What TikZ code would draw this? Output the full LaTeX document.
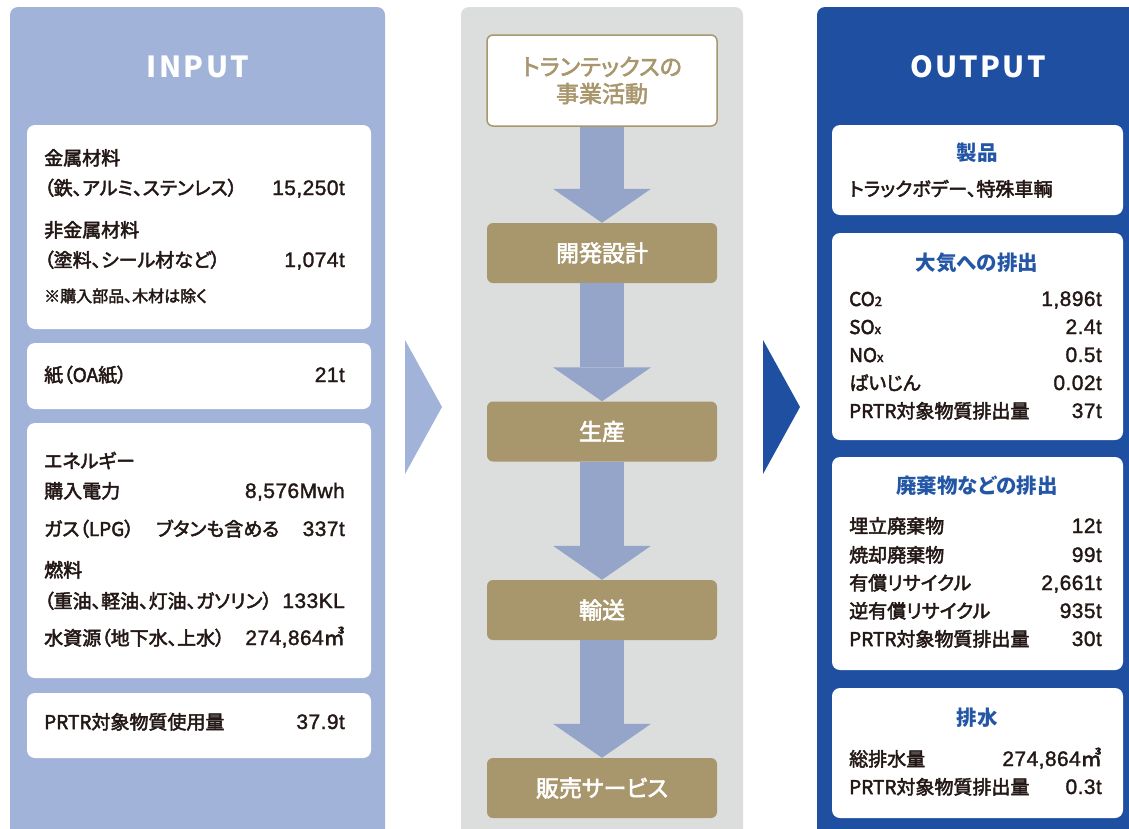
\documentclass[tikz,border=0pt]{standalone}
\usepackage{fontspec}
\setmainfont[RawFeature=+palt]{Noto Sans CJK JP}
\newfontfamily\bodyfont[RawFeature=+palt,FakeBold=2.5]{Noto Sans CJK JP}
\newfontfamily\numfont[LetterSpace=2,FakeBold=1.5]{Liberation Sans}
\usetikzlibrary{arrows.meta}

\definecolor{inblue}{HTML}{A2B3DA}
\definecolor{outblue}{HTML}{1F4FA0}
\definecolor{midgray}{HTML}{DCDEDE}
\definecolor{flowblue}{HTML}{94A5C9}
\definecolor{gold}{HTML}{A8966C}
\definecolor{ink}{HTML}{231815}
\definecolor{headblue}{HTML}{2456A6}

\tikzset{
  card/.style={fill=white, rounded corners=8pt},
  title/.style={text=white, font=\fontsize{29}{32}\selectfont\bfseries\addfontfeature{LetterSpace=8}},
  item/.style={anchor=west, text=ink, text height=14pt, text depth=4pt, font=\bodyfont\fontsize{19}{20}\selectfont},
  amount/.style={item, anchor=east, font=\numfont\fontsize{21}{22}\selectfont},
  note/.style={item, font=\bodyfont\fontsize{16}{18}\selectfont},
  head/.style={text=headblue, text height=15pt, text depth=4pt, font=\fontsize{20.5}{22}\selectfont\bfseries},
  startbox/.style={draw=gold, line width=1.5pt, fill=white, rounded corners=6pt, minimum width=230pt, minimum height=91pt, align=center, text=gold, font=\bodyfont\fontsize{23}{27}\selectfont},
  stepbox/.style={fill=gold, rounded corners=6pt, minimum width=230pt, minimum height=60pt, text=white, font=\bodyfont\fontsize{23}{24}\selectfont},
  flow/.style={draw=flowblue, line width=44pt, -{Triangle[width=98pt,length=34pt,line width=0pt]}}
}
\newcommand{\smallsub}[1]{{\fontsize{13}{14}\selectfont #1}}

\begin{document}
\begin{tikzpicture}[x=1pt,y=-1pt]
\tikzstyle{every node}+=[inner sep=0pt]
\useasboundingbox (0,0) rectangle (1129,828);
\clip (0,0) rectangle (1129,828);
% panels
\fill [inblue, rounded corners=8pt] (10,7) rectangle (385,850);
\fill [midgray, rounded corners=8pt] (461,7) rectangle (743,850);
\fill [outblue, rounded corners=8pt] (817,7) rectangle (1150,850);
\fill [inblue] (405,340) -- (442,407) -- (405,474) -- cycle;
\fill [outblue] (763,340) -- (800,407) -- (763,474) -- cycle;
\node [title] (intitle) at (198,67) {INPUT};
\node [title] (outtitle) at (978,67) {OUTPUT};

% input
\fill [card] (27,125) rectangle (371,329);
\node [item] (metal) at (44,160) {金属材料};
\node [item] (metalsub) at (44,190) {（鉄、アルミ、ステンレス）};
\node [amount] (metalval) at (345,190) {15,250t};
\node [item] (nonmetal) at (44,232) {非金属材料};
\node [item] (nonmetalsub) at (44,262) {（塗料、シール材など）};
\node [amount] (nonmetalval) at (345,262) {1,074t};
\node [note] (exclude) at (44,297) {※購入部品、木材は除く};
\fill [card] (27,343) rectangle (371,409);
\node [item] (paper) at (44,377) {紙（OA紙）};
\node [amount] (paperval) at (345,377) {21t};
\fill [card] (27,423) rectangle (371,678);
\node [item] (energy) at (44,463) {エネルギー};
\node [item] (power) at (44,493) {購入電力};
\node [amount] (powerval) at (345,493) {8,576Mwh};
\node [item] (gas) at (44,531) {ガス（LPG）};
\node [item] (gasnote) at (156,531) {ブタンも含める};
\node [amount] (gasval) at (345,531) {337t};
\node [item] (fuel) at (44,572) {燃料};
\node [item] (fuelsub) at (44,603) {（重油、軽油、灯油、ガソリン）};
\node [amount] (fuelval) at (345,603) {133KL};
\node [item] (water) at (44,640) {水資源（地下水、上水）};
\node [amount] (waterval) at (345,640) {274,864{\bodyfont ㎥}};
\fill [card] (27,693) rectangle (371,758);
\node [item] (prtrin) at (44,724) {PRTR対象物質使用量};
\node [amount] (prtrinval) at (345,724) {37.9t};

% business flow
\node [startbox] (biz) at (602,80.5) {トランテックスの\\事業活動};
\node [stepbox] (dev) at (602,253) {開発設計};
\node [stepbox] (prod) at (602,431.5) {生産};
\node [stepbox] (ship) at (602,610) {輸送};
\node [stepbox] (sale) at (602,788) {販売サービス};
\draw [flow] (biz) -- (dev);
\draw [flow] (dev) -- (prod);
\draw [flow] (prod) -- (ship);
\draw [flow] (ship) -- (sale);

% output
\fill [card] (832,125) rectangle (1123,215);
\node [head] (prodhead) at (977,155) {製品};
\node [item] (prodtext) at (849,191) {トラックボデー、特殊車輌};
\fill [card] (832,233) rectangle (1123,440);
\node [head] (airhead) at (977,265) {大気への排出};
\node [item] (co2) at (849,301) {CO\smallsub{2}};
\node [amount] (co2val) at (1102,301) {1,896t};
\node [item] (sox) at (849,329) {SO\smallsub{x}};
\node [amount] (soxval) at (1102,329) {2.4t};
\node [item] (nox) at (849,357) {NO\smallsub{x}};
\node [amount] (noxval) at (1102,357) {0.5t};
\node [item] (dust) at (849,385) {ばいじん};
\node [amount] (dustval) at (1102,385) {0.02t};
\node [item] (prtrair) at (849,413) {PRTR対象物質排出量};
\node [amount] (prtrairval) at (1102,413) {37t};
\fill [card] (832,457) rectangle (1123,670);
\node [head] (wastehead) at (977,488) {廃棄物などの排出};
\node [item] (landfill) at (849,528) {埋立廃棄物};
\node [amount] (landfillval) at (1102,528) {12t};
\node [item] (burn) at (849,557) {焼却廃棄物};
\node [amount] (burnval) at (1102,557) {99t};
\node [item] (recycle) at (849,585) {有償リサイクル};
\node [amount] (recycleval) at (1102,585) {2,661t};
\node [item] (paidrecycle) at (849,613) {逆有償リサイクル};
\node [amount] (paidrecycleval) at (1102,613) {935t};
\node [item] (prtrwaste) at (849,641) {PRTR対象物質排出量};
\node [amount] (prtrwasteval) at (1102,641) {30t};
\fill [card] (832,688) rectangle (1123,818);
\node [head] (drainhead) at (977,720) {排水};
\node [item] (drain) at (849,761) {総排水量};
\node [amount] (drainval) at (1102,761) {274,864{\bodyfont ㎥}};
\node [item] (prtrdrain) at (849,789) {PRTR対象物質排出量};
\node [amount] (prtrdrainval) at (1102,789) {0.3t};
\end{tikzpicture}
\end{document}
